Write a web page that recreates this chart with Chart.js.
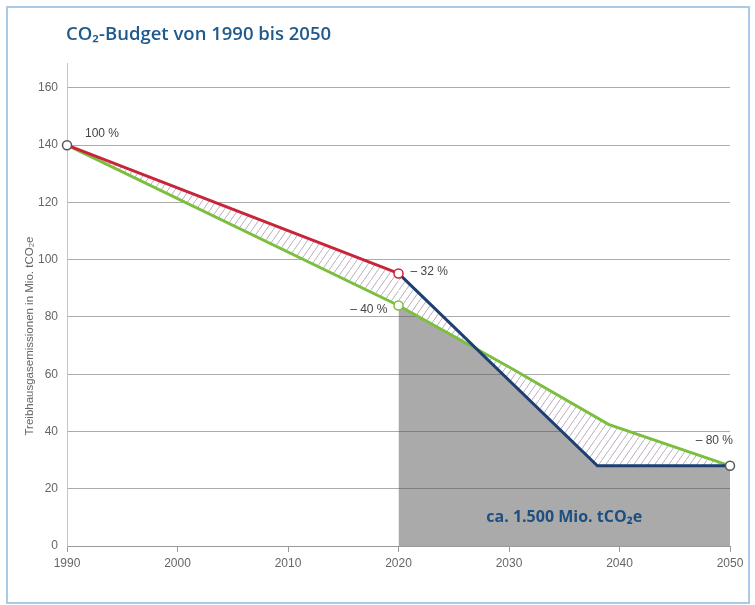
<!DOCTYPE html>
<html>
<head>
<meta charset="utf-8">
<script src="https://cdn.jsdelivr.net/npm/chart.js@4.4.0/dist/chart.umd.min.js"></script>
<style>
  body { margin: 0; background: #fff; }
  #wrap { position: relative; width: 755px; height: 605px; }
  #frame { position: absolute; left: 6px; top: 6px; width: 740px; height: 594px; border: 2px solid #a9cbe9; pointer-events: none; }
  #title { position: absolute; left: 66px; top: 20px; font: 600 18.5px "Open Sans", sans-serif; color: #1f5a8c; }
</style>
</head>
<body>
<div id="wrap">
  <canvas id="myChart" width="755" height="605"></canvas>
  <div id="frame"></div>
  <div id="title">CO₂-Budget von 1990 bis 2050</div>
</div>
<script>
// values (Mio. tCO2e)
var redYears = [1990, 2020];
var redValues = [140, 95.2];
var greenYears = [1990, 2020, 2030, 2039, 2050];
var greenValues = [140, 84, 62.5, 42.5, 28];
var blueYears = [2020, 2038, 2050];
var blueValues = [95.2, 28, 28];
var budgetFrom = 1; // green points from 2020 on carry the grey budget area
var yTicks = [0, 20, 40, 60, 80, 100, 120, 140, 160];
var xTicks = [1990, 2000, 2010, 2020, 2030, 2040, 2050];
var pctLabels = ['100 %', '– 32 %', '– 40 %', '– 80 %'];
var budgetLabel = 'ca. 1.500 Mio. tCO₂e';
var yTitle = 'Treibhausgasemissionen in Mio. tCO₂e';

var RED = '#c8243a', GREEN = '#7cbf3f', BLUE = '#1d3f72', DARK = '#555';

function pts(xs, ys) {
  return xs.map(function(x, i){ return {x: x, y: ys[i]}; });
}

// diagonal hatch on white
var tile = document.createElement('canvas');
tile.width = 7; tile.height = 10;
var tc = tile.getContext('2d');
tc.fillStyle = '#fff';
tc.fillRect(0, 0, 7, 10);
tc.strokeStyle = '#b9aebd';
tc.lineWidth = 1;
tc.beginPath(); tc.moveTo(0, 10); tc.lineTo(7, 0); tc.stroke();
var ctx = document.getElementById('myChart').getContext('2d');
var hatch = ctx.createPattern(tile, 'repeat');

var labelPlugin = {
  id: 'labels',
  afterDatasetsDraw: function(chart) {
    var c = chart.ctx, xs = chart.scales.x, ys = chart.scales.y;
    function px(x, y) { return [xs.getPixelForValue(x), ys.getPixelForValue(y)]; }
    c.save();
    c.font = '12px "Liberation Sans", Arial, sans-serif';
    c.fillStyle = '#444';
    c.textBaseline = 'middle';
    var p = px(redYears[0], redValues[0]);
    c.textAlign = 'left'; c.fillText(pctLabels[0], p[0] + 18, p[1] - 11);
    p = px(redYears[1], redValues[1]);
    c.fillText(pctLabels[1], p[0] + 12, p[1] - 2);
    p = px(greenYears[1], greenValues[1]);
    c.textAlign = 'right'; c.fillText(pctLabels[2], p[0] - 11, p[1] + 4);
    p = px(greenYears[4], greenValues[4]);
    c.fillText(pctLabels[3], p[0] + 3, p[1] - 25);

    // budget text
    p = px(2035, 10);
    c.textAlign = 'center';
    c.font = 'bold 16px "Open Sans", sans-serif';
    c.fillStyle = '#1f4f80';
    c.fillText(budgetLabel, p[0], p[1]);

    // y axis title
    c.translate(30, 336);
    c.rotate(-Math.PI / 2);
    c.font = '11.5px "Liberation Sans", Arial, sans-serif';
    c.fillStyle = '#666';
    c.fillText(yTitle, 0, 0);
    c.restore();
  }
};

var chart = new Chart(ctx, {
  type: 'line',
  data: {
    datasets: [{
      label: 'Ziel 2020',
      data: pts(redYears, redValues),
      borderColor: RED,
      borderWidth: 3,
      backgroundColor: hatch,
      fill: 2,
      clip: false,
      pointRadius: [4.5, 4.5],
      pointBorderColor: [DARK, RED],
      pointBackgroundColor: '#fff',
      pointBorderWidth: 1.5
    }, {
      label: 'Budget-Pfad',
      data: pts(blueYears, blueValues),
      borderColor: BLUE,
      borderWidth: 3,
      backgroundColor: hatch,
      fill: 2,
      clip: false,
      pointRadius: [0, 0, 4.5],
      pointBorderColor: DARK,
      pointBackgroundColor: '#fff',
      pointBorderWidth: 1.5
    }, {
      label: 'Zielpfad',
      data: pts(greenYears, greenValues),
      borderColor: GREEN,
      borderWidth: 3,
      fill: false,
      clip: false,
      pointRadius: [0, 4.5, 0, 0, 0],
      pointBorderColor: GREEN,
      pointBackgroundColor: '#fff',
      pointBorderWidth: 1.5
    }, {
      label: 'Budget',
      data: pts(greenYears.slice(budgetFrom), greenValues.slice(budgetFrom)),
      borderWidth: 0,
      borderColor: 'rgba(0,0,0,0)',
      backgroundColor: 'rgba(85,85,85,0.5)',
      fill: 'origin',
      pointRadius: 0
    }]
  },
  options: {
    responsive: false,
    animation: false,
    layout: { padding: { top: 63, right: 25, bottom: 0, left: 0 } },
    plugins: {
      legend: { display: false },
      tooltip: { enabled: false },
      filler: { drawTime: 'beforeDatasetsDraw' }
    },
    elements: { line: { tension: 0 } },
    scales: {
      x: {
        type: 'linear',
        min: 1990,
        max: 2050,
        afterFit: function(s) { s.height = 59; },
        afterBuildTicks: function(s) { s.ticks = xTicks.map(function(v){ return {value: v}; }); },
        grid: { drawOnChartArea: false, drawTicks: true, tickLength: 6, tickColor: '#999' },
        border: { color: '#999', width: 1 },
        ticks: { padding: 4, color: '#666', font: { family: '"Liberation Sans Narrow", "Liberation Sans", Arial', size: 12 }, callback: function(v){ return String(v); } }
      },
      y: {
        min: 0,
        max: 168.7,
        afterFit: function(s) { s.width = 67; },
        afterBuildTicks: function(s) { s.ticks = yTicks.map(function(v){ return {value: v}; }); },
        grid: { color: '#ababab', lineWidth: 1, drawTicks: false },
        border: { color: '#c4c4c4', width: 1 },
        ticks: { padding: 9, color: '#666', font: { family: '"Liberation Sans Narrow", "Liberation Sans", Arial', size: 12 } }
      }
    }
  },
  plugins: [labelPlugin]
});
</script>
</body>
</html>
